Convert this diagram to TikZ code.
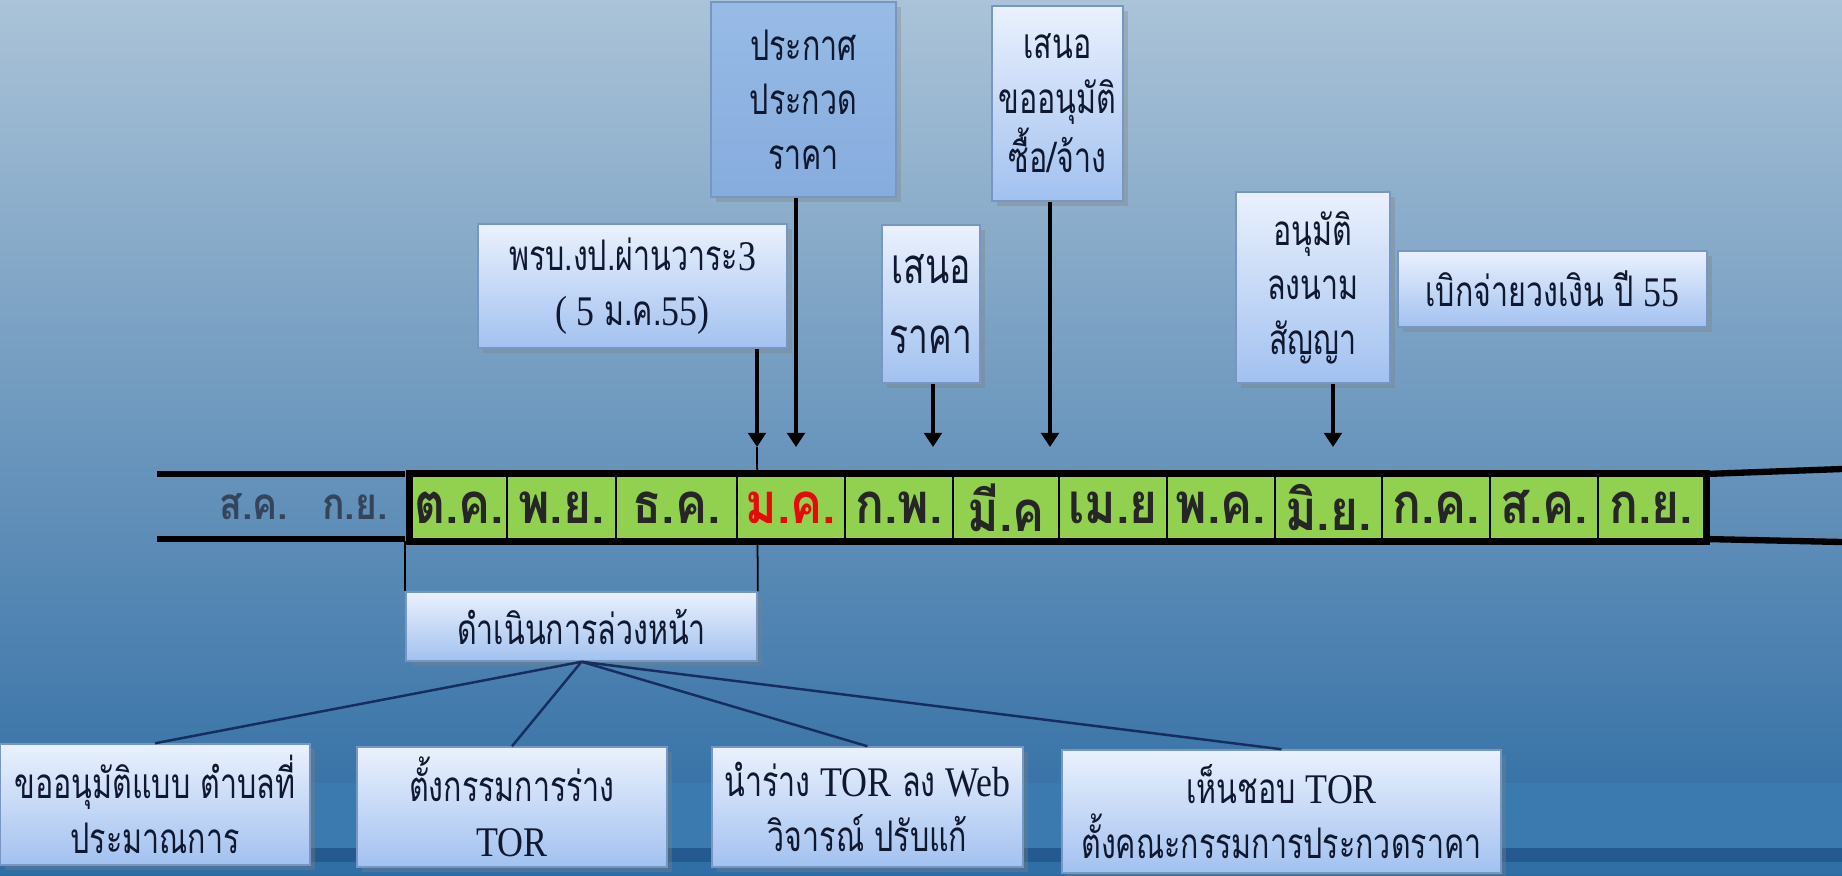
\documentclass[tikz,border=0pt]{standalone}
\usepackage{fontspec}
\setmainfont{Liberation Serif}
\newfontfamily\thaifont[Script=Thai,FakeStretch=0.72]{Loma}
\newfontfamily\monthfont[Script=Thai,FakeStretch=0.85]{Loma}
\newfontfamily\latfont[FakeStretch=0.85]{Liberation Serif}
\newcommand\lat[1]{{\latfont #1}}
\usetikzlibrary{arrows.meta,shadows}
\definecolor{bgtop}{RGB}{170,195,216}
\definecolor{bgmid}{RGB}{82,135,182}
\definecolor{bgbot}{RGB}{44,106,162}
\definecolor{bandlight}{RGB}{58,122,174}
\definecolor{banddark}{RGB}{36,90,144}
\definecolor{bandlow}{RGB}{48,110,166}
\definecolor{boxtop}{RGB}{234,241,253}
\definecolor{boxbot}{RGB}{162,193,240}
\definecolor{boxline}{RGB}{120,150,195}
\definecolor{boxtext}{RGB}{16,24,48}
\definecolor{prktop}{RGB}{152,187,230}
\definecolor{prkbot}{RGB}{134,172,222}
\definecolor{cellgreen}{RGB}{146,208,80}
\definecolor{mkred}{RGB}{230,10,10}
\definecolor{slate}{RGB}{52,68,90}
\definecolor{navy}{RGB}{22,45,95}
\begin{document}
\begin{tikzpicture}[x=0.01cm,y=-0.01cm,
  box/.style={draw=boxline,line width=0.4pt,top color=boxtop,bottom color=boxbot,
    drop shadow={shadow xshift=1.5pt,shadow yshift=-1.5pt,opacity=0.35},
    align=center,text=boxtext,inner sep=0pt,
    font=\thaifont\fontsize{12}{15.5}\selectfont},
  cell/.style={draw=black,line width=0.6pt,fill=cellgreen,inner sep=0pt,
    minimum height=0.65cm,text=black!85,font=\monthfont\bfseries\fontsize{16}{16}\selectfont},
  arr/.style={-{Triangle[width=5pt,length=4pt]},line width=0.9pt},
  rail/.style={line width=1.8pt,black},
  link/.style={navy,line width=0.7pt}]
\useasboundingbox (0,0) rectangle (1842,875);
\shade[top color=bgtop,middle color=bgmid,bottom color=bgbot] (0,0) rectangle (1842,875);
\fill[bandlight] (0,783) rectangle (1842,848);
\fill[banddark] (0,848) rectangle (1842,862);
\fill[bandlow] (0,862) rectangle (1842,875);

\node[box,minimum width=3.51cm,minimum height=0.69cm] (dnk) at (581.5,626.5) {ดำเนินการล่วงหน้า};
\coordinate (t1) at (757,447);
\coordinate (t2) at (796,447);
\coordinate (t3) at (933,447);
\coordinate (t4) at (1050,447);
\coordinate (t5) at (1333,447);
\draw[line width=0.5pt] (t1) -- (dnk.north east);
\draw[line width=0.5pt] (dnk.north west) -- ++(0,-50);

\draw[rail] (157,474) -- (405,474);
\draw[rail] (157,539) -- (405,539);
\draw[rail] (1705,474) -- (1842,469);
\draw[rail] (1705,539) -- (1842,542);
\node[font=\monthfont\bfseries\fontsize{12.5}{12.5}\selectfont,text=slate] (lsk) at (254,507) {ส.ค.};
\node[font=\monthfont\bfseries\fontsize{12.5}{12.5}\selectfont,text=slate] (lky) at (355,507) {ก.ย.};
\foreach \a/\b/\m [count=\i] in {411/507/ต.ค., 507/616/พ.ย., 616/737/ธ.ค., 737/845/{\color{mkred}ม.ค.},
    845/953/ก.พ., 953/1059/มี.ค, 1059/1167/เม.ย, 1167/1275/พ.ค., 1275/1382/มิ.ย.,
    1382/1490/ก.ค., 1490/1598/ส.ค., 1598/1705/ก.ย.}{
  \pgfmathsetmacro\w{(\b-\a)/100}
  \node[cell,minimum width=\w cm] (m\i) at ({(\a+\b)/2},507.5) {\m};
}
\draw[line width=2pt] (m1.north west) rectangle (m12.south east);

\node[box,top color=prktop,bottom color=prkbot,minimum width=1.85cm,minimum height=1.95cm] (prk) at (803.5,99.5) {ประกาศ\\ประกวด\\ราคา};
\node[box,minimum width=1.31cm,minimum height=1.95cm] (snoa) at (1057.5,103.5) {เสนอ\\ขออนุมัติ\\ซื้อ/จ้าง};
\node[box,minimum width=3.09cm,minimum height=1.24cm] (prb) at (632.5,286) {พรบ.งป.ผ่านวาระ\lat{3}\\\lat{( 5} ม.ค.\lat{55)}};
\node[box,minimum width=0.98cm,minimum height=1.58cm,font=\thaifont\fontsize{14}{20}\selectfont] (snr) at (931,304) {เสนอ\\ราคา};
\node[box,minimum width=1.54cm,minimum height=1.91cm] (anm) at (1313,287.5) {อนุมัติ\\ลงนาม\\สัญญา};
\node[box,minimum width=3.09cm,minimum height=0.76cm] (bkj) at (1552.5,289) {เบิกจ่ายวงเงิน ปี \lat{55}};

\draw[arr] (prb.south -| t1) -- (t1);
\draw[arr] (prk.south -| t2) -- (t2);
\draw[arr] (snr.south -| t3) -- (t3);
\draw[arr] (snoa.south -| t4) -- (t4);
\draw[arr] (anm.south -| t5) -- (t5);

\node[box,minimum width=3.10cm,minimum height=1.21cm] (ab) at (155,804.5) {ขออนุมัติแบบ ตำบลที่\\ประมาณการ};
\node[box,minimum width=3.10cm,minimum height=1.20cm] (kr) at (512,807) {ตั้งกรรมการร่าง\\\lat{TOR}};
\node[box,minimum width=3.11cm,minimum height=1.20cm] (web) at (867.5,807) {นำร่าง \lat{TOR} ลง \lat{Web}\\วิจารณ์ ปรับแก้};
\node[box,minimum width=4.39cm,minimum height=1.23cm] (hc) at (1281.5,811.5) {เห็นชอบ \lat{TOR}\\ตั้งคณะกรรมการประกวดราคา};
\draw[link] (dnk.south) -- (ab.north);
\draw[link] (dnk.south) -- (kr.north);
\draw[link] (dnk.south) -- (web.north);
\draw[link] (dnk.south) -- (hc.north);
\end{tikzpicture}
\end{document}
